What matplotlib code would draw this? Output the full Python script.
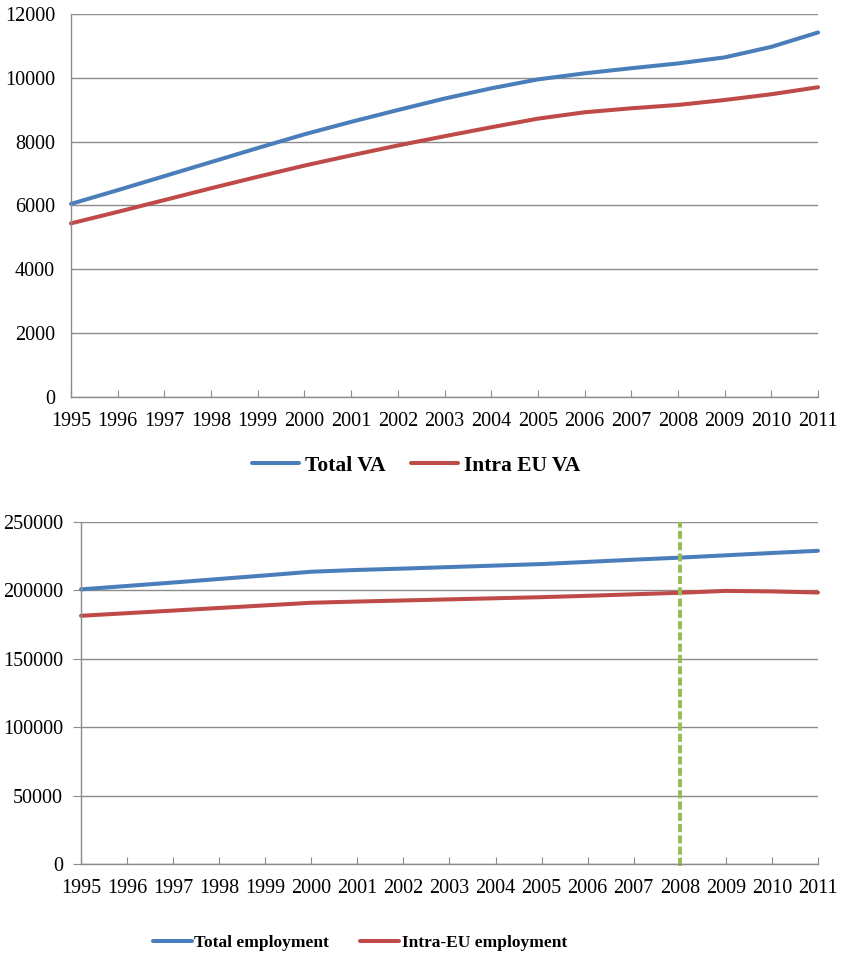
import matplotlib
matplotlib.use('Agg')
import matplotlib.pyplot as plt

plt.rcParams['font.family'] = ['Liberation Serif', 'DejaVu Serif']

years = list(range(1995, 2012))

# value added (top panel)
total_va = [6050, 6480, 6920, 7360, 7800, 8230, 8620, 8990, 9350, 9670,
            9950, 10140, 10300, 10450, 10640, 10970, 11420]
intra_eu_va = [5440, 5800, 6170, 6540, 6900, 7250, 7570, 7880, 8170, 8450,
               8720, 8920, 9045, 9150, 9305, 9485, 9705]

# employment (bottom panel)
total_emp = [200800, 203300, 205800, 208400, 211000, 213700, 215000, 216000,
             217100, 218200, 219300, 220900, 222500, 224000, 225700, 227400,
             229000]
intra_eu_emp = [181500, 183400, 185300, 187200, 189100, 191000, 191900,
                192700, 193500, 194300, 195100, 196100, 197200, 198300,
                199700, 199300, 198500]
crisis_year = 2008

va_ticks = [0, 2000, 4000, 6000, 8000, 10000, 12000]
emp_ticks = [0, 50000, 100000, 150000, 200000, 250000]

BLUE = '#4A7EBB'
RED = '#BE4B48'
GREEN = '#9BBB59'
GRID = '#8C8C8C'
LW = 2.9

fig = plt.figure(figsize=(8.41, 9.56), dpi=100)
ax1 = fig.add_axes([0.0844, 0.5847, 0.8883, 0.4007])
ax2 = fig.add_axes([0.0963, 0.0962, 0.8763, 0.3577])


def style_axes(ax, yticks, ytick_len, ypad):
    ax.set_xlim(years[0], years[-1])
    ax.set_ylim(yticks[0], yticks[-1])
    ax.set_xticks(years)
    ax.set_yticks(yticks)
    ax.set_yticklabels([str(v) for v in yticks])
    ax.grid(axis='y', color=GRID, linewidth=1.0)
    ax.set_axisbelow(True)
    for side in ('top', 'right'):
        ax.spines[side].set_visible(False)
    for side in ('left', 'bottom'):
        ax.spines[side].set_color(GRID)
        ax.spines[side].set_linewidth(1.0)
    ax.tick_params(axis='x', direction='in', length=5, color=GRID,
                   labelsize=14.5, pad=11)
    ax.tick_params(axis='y', direction='out', length=ytick_len, color=GRID,
                   labelsize=14.5, pad=ypad)


# top panel
ax1.plot(years, total_va, color=BLUE, lw=LW, label='Total VA',
         solid_capstyle='round', clip_on=False)
ax1.plot(years, intra_eu_va, color=RED, lw=LW, label='Intra EU VA',
         solid_capstyle='round', clip_on=False)
style_axes(ax1, va_ticks, 0, 11.5)

fig.legend(handles=ax1.get_lines(), loc='center',
           bbox_to_anchor=(0.4946, 0.5126), ncol=2, frameon=False,
           prop={'weight': 'bold', 'size': 15.5}, handlelength=2.2,
           handletextpad=0.25, columnspacing=1.2)

# bottom panel
ax2.plot(years, total_emp, color=BLUE, lw=LW, label='Total employment',
         solid_capstyle='round', clip_on=False)
ax2.plot(years, intra_eu_emp, color=RED, lw=LW, label='Intra-EU employment',
         solid_capstyle='round', clip_on=False)
ax2.axvline(crisis_year, ymin=-0.005, ymax=1.0, color=GREEN, lw=LW,
            dashes=(2.0, 0.8), clip_on=False)
style_axes(ax2, emp_ticks, 6, 7)

fig.legend(handles=ax2.get_lines()[:2], loc='center',
           bbox_to_anchor=(0.428, 0.0136), ncol=2, frameon=False,
           prop={'weight': 'bold', 'size': 12.5}, handlelength=2.25,
           handletextpad=0.12, columnspacing=1.8)

fig.savefig('out.png', dpi=100)
